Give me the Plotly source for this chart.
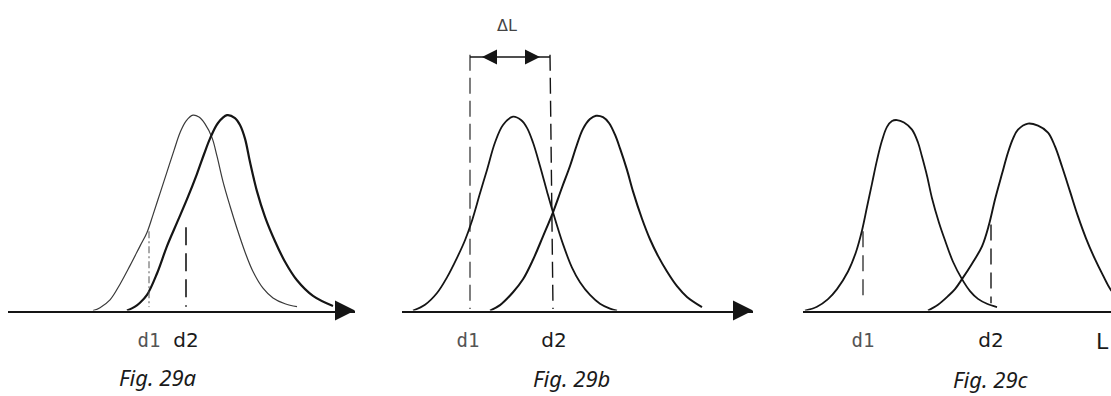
import plotly.graph_objects as go

W, H = 1111, 396

# ---------------- data (x in L units, y in relative frequency) ----------------
# Fig. 29a
a1_x = [9.3, 10.0, 11.0, 12.0, 13.0, 14.0, 14.7, 15.3, 16.0, 16.7, 17.4, 18.0, 18.6, 19.3,
        19.9, 20.5, 21.2, 21.7, 22.3, 23.0, 23.7, 24.5, 25.3, 26.3, 27.3, 28.5, 29.7]
a1_y = [0, 0.015, 0.055, 0.135, 0.23, 0.33, 0.40, 0.49, 0.60, 0.71, 0.82, 0.91, 0.97, 1.0,
        0.99, 0.955, 0.885, 0.79, 0.66, 0.535, 0.42, 0.30, 0.20, 0.115, 0.065, 0.035, 0.02]
a2_x = [12.7, 13.5, 14.0, 14.7, 15.7, 16.7, 17.7, 18.7, 19.7, 20.4, 21.0, 21.8, 22.7,
        23.5, 24.0, 24.5, 25.0, 25.7, 26.5, 27.5, 28.5, 29.7, 31.3, 33.3]
a2_y = [0, 0.02, 0.04, 0.08, 0.19, 0.33, 0.45, 0.57, 0.70, 0.80, 0.88, 0.96, 1.0,
        0.985, 0.95, 0.88, 0.76, 0.61, 0.48, 0.355, 0.25, 0.155, 0.075, 0.023]
a_d = [14.9, 18.6]
a_d_top = [0.406, 0.426]
a_d_bot = [0.018, 0.02]

# Fig. 29b
b1_x = [41.3, 42.5, 43.7, 44.7, 45.7, 46.5, 47.2, 48.0, 48.7, 49.5, 50.3, 51.3,
        52.1, 52.7, 53.3, 54.0, 54.7, 55.3, 56.3, 57.2, 58.0, 59.0, 60.0, 61.0, 61.7]
b1_y = [0, 0.03, 0.09, 0.17, 0.27, 0.36, 0.46, 0.60, 0.72, 0.86, 0.95, 0.992,
        0.975, 0.935, 0.86, 0.74, 0.61, 0.503, 0.34, 0.22, 0.145, 0.08, 0.035, 0.01, 0]
b2_x = [49.0, 50.0, 51.3, 52.3, 53.3, 54.3, 55.3, 56.2, 57.0, 57.7, 58.3, 59.0, 59.6,
        60.3, 60.9, 61.5, 62.0, 62.7, 63.3, 64.2, 65.0, 65.8, 66.7, 67.7, 68.7, 70.2]
b2_y = [0, 0.028, 0.094, 0.16, 0.26, 0.38, 0.503, 0.63, 0.74, 0.85, 0.93, 0.98, 0.997,
        0.99, 0.96, 0.90, 0.83, 0.72, 0.61, 0.47, 0.365, 0.28, 0.20, 0.125, 0.07, 0.018]
b_d_top_x = [47.0, 55.0]
b_d_bot_x = [47.0, 55.3]
b_d_top = 1.309
b_d_bot = 0.008
b_span_y = 1.298

# Fig. 29c
c1_x = [80.5, 81.7, 82.8, 83.7, 84.8, 85.6, 86.2, 86.7, 87.2, 87.7, 88.2, 88.7, 89.2, 89.7,
        90.4, 91.2, 91.8, 92.2, 92.7, 93.2, 93.9, 94.5, 95.3, 96.2, 97.0, 97.8, 98.7, 99.7]
c1_y = [0, 0.02, 0.059, 0.11, 0.2, 0.3, 0.41, 0.53, 0.65, 0.77, 0.87, 0.94, 0.97, 0.975,
        0.962, 0.926, 0.86, 0.788, 0.69, 0.575, 0.45, 0.36, 0.25, 0.161, 0.1, 0.06, 0.035, 0.018]
c2_x = [92.8, 93.8, 94.8, 95.5, 96.2, 97.2, 98.2, 98.9, 99.5, 100.2, 100.8, 101.3, 101.8,
        102.8, 103.8, 104.8, 105.5, 106.2, 107.0, 107.8, 108.6, 109.5, 110.3, 111.1, 112.0]
c2_y = [0, 0.03, 0.074, 0.11, 0.161, 0.24, 0.329, 0.44, 0.569, 0.70, 0.809, 0.88, 0.926,
        0.957, 0.946, 0.911, 0.84, 0.737, 0.61, 0.482, 0.37, 0.263, 0.18, 0.105, 0.06]
c_d = [86.3, 99.1]
c_d_top = [0.406, 0.441]
c_d_bot = [0.038, 0.038]

tick_text = ['<span style="font-family:DejaVu Sans Mono;color:#555;font-size:19px">d1</span>', 'd2']
captions = ["Fig. 29a", "Fig. 29b", "Fig. 29c"]
caption_x = [15.8, 57.1, 99.1]

x_ranges = [[0.8, 35.5], [40.2, 75.3], [80.3, 111.1]]
y_max = 311.5 / 196

# ---------------- figure ----------------
fig = go.Figure()
INK = "#151515"

def curve(x, y, ax, width, color=INK):
    fig.add_trace(go.Scatter(x=x, y=y, xaxis=ax[0], yaxis=ax[1], mode="lines",
                             line=dict(color=color, width=width, shape="spline", smoothing=1.0),
                             hoverinfo="skip", showlegend=False))

def vline(x0, x1, y0, y1, ax, dash, width=1.3, color=INK):
    fig.add_trace(go.Scatter(x=[x0, x1], y=[y0, y1], xaxis=ax[0], yaxis=ax[1], mode="lines",
                             line=dict(color=color, width=width, dash=dash),
                             hoverinfo="skip", showlegend=False))

A, B, C = ("x", "y"), ("x2", "y2"), ("x3", "y3")

curve(a1_x, a1_y, A, 1.2, "#3a3a3a")
curve(a2_x, a2_y, A, 2.2)
vline(a_d[0], a_d[0], a_d_top[0], a_d_bot[0], A, "7px,3px,2px,3px", 1.0, "#555")
vline(a_d[1], a_d[1], a_d_top[1], a_d_bot[1], A, "18px,8px", 1.6)

curve(b1_x, b1_y, B, 1.8)
curve(b2_x, b2_y, B, 2.0)
vline(b_d_top_x[0], b_d_bot_x[0], b_d_top, b_d_bot, B, "16px,7px", 1.1)
vline(b_d_top_x[1], b_d_bot_x[1], b_d_top, b_d_bot, B, "16px,7px", 1.4)
# delta-L span
vline(b_d_top_x[0], b_d_top_x[1], b_span_y, b_span_y, B, "solid", 1.5)
fig.add_trace(go.Scatter(x=[b_d_top_x[0] + 1.2, b_d_top_x[1] - 1.0], y=[b_span_y, b_span_y],
                         xaxis="x2", yaxis="y2", mode="markers", cliponaxis=False,
                         marker=dict(symbol=["arrow-left", "arrow-right"], size=15, color=INK,
                                     line=dict(width=0)),
                         hoverinfo="skip", showlegend=False))

curve(c1_x, c1_y, C, 1.8)
curve(c2_x, c2_y, C, 1.9)
vline(c_d[0], c_d[0], c_d_top[0], c_d_bot[0], C, "16px,8px", 1.2)
vline(c_d[1], c_d[1], c_d_top[1], c_d_bot[1], C, "16px,8px", 1.4)

# axis arrow heads at the ends of the L axes
for ax, rng in zip([A, B], x_ranges[:2]):
    fig.add_trace(go.Scatter(x=[rng[1]], y=[0], xaxis=ax[0], yaxis=ax[1], mode="markers",
                             cliponaxis=False,
                             marker=dict(symbol="arrow-right", size=20, color=INK, line=dict(width=0)),
                             hoverinfo="skip", showlegend=False))

domains_px = [[8, 355], [402, 753], [803, 1111]]
tickvals = [a_d, [b_d_bot_x[0] - 0.2, b_d_bot_x[1] + 0.1], c_d]
y_bottom = (H - 311.5 + 0.9) / H

layout = dict(width=W, height=H, margin=dict(l=0, r=0, t=0, b=0),
              paper_bgcolor="white", plot_bgcolor="white", showlegend=False)
for i in range(3):
    sfx = "" if i == 0 else str(i + 1)
    layout["xaxis" + sfx] = dict(domain=[domains_px[i][0] / W, domains_px[i][1] / W],
                                 range=x_ranges[i], anchor="y" + sfx,
                                 showline=True, linecolor=INK, linewidth=1.8,
                                 showgrid=False, zeroline=False, ticks="",
                                 tickvals=tickvals[i], ticktext=tick_text,
                                 tickfont=dict(family="DejaVu Sans", size=20, color="#1a1a1a"),
                                 ticklabelstandoff=10, fixedrange=True)
    layout["yaxis" + sfx] = dict(domain=[y_bottom, 1], range=[0, y_max], anchor="x" + sfx,
                                 visible=False, fixedrange=True)
fig.update_layout(**layout)

ann = []
cap_tops = [360, 361, 362]
for i, (t, cx) in enumerate(zip(captions, caption_x)):
    sfx = "" if i == 0 else str(i + 1)
    ann.append(dict(text="<i>" + t + "</i>", x=cx, xref="x" + sfx, y=(H - cap_tops[i]) / H,
                    yref="paper", yanchor="top", xanchor="center", showarrow=False,
                    font=dict(family="Noto Sans", size=22, color="#1a1a1a")))
ann.append(dict(text="ΔL", x=50.7, xref="x2", y=(H - 14) / H, yref="paper", yanchor="top",
                xanchor="center", showarrow=False,
                font=dict(family="DejaVu Sans", size=16, color="#444")))
ann.append(dict(text="L", x=111.1, xref="x3", y=(H - 327) / H, yref="paper", yanchor="top",
                xanchor="right", showarrow=False,
                font=dict(family="DejaVu Sans", size=22, color="#1a1a1a")))
fig.update_layout(annotations=ann)

fig.write_html("out.html", config={"displayModeBar": False},
               post_script="document.body.style.margin='0px';")
